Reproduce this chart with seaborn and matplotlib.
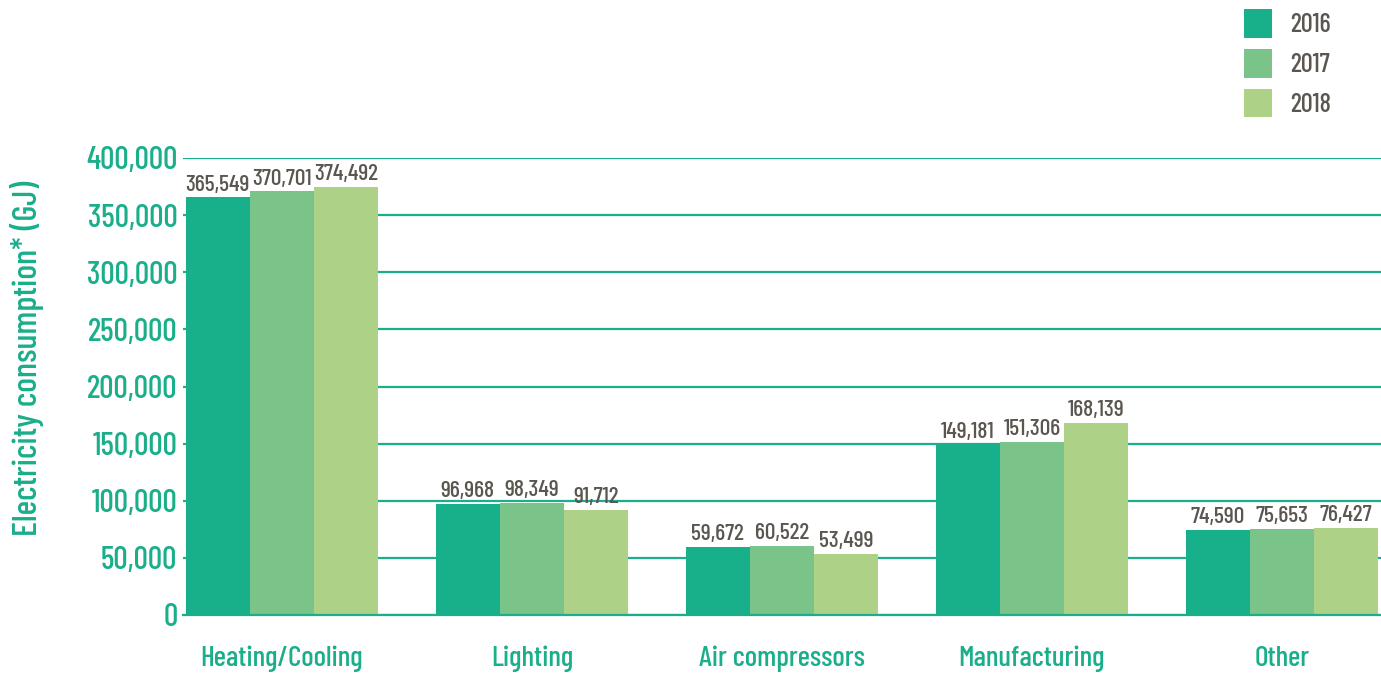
import matplotlib
matplotlib.use("Agg")
import matplotlib.pyplot as plt
import seaborn as sns
import pandas as pd

categories = ["Heating/Cooling", "Lighting", "Air compressors", "Manufacturing", "Other"]
years = ["2016", "2017", "2018"]
values_2016 = [365549, 96968, 59672, 149181, 74590]
values_2017 = [370701, 98349, 60522, 151306, 75653]
values_2018 = [374492, 91712, 53499, 168139, 76427]
y_ticks = [0, 50000, 100000, 150000, 200000, 250000, 300000, 350000, 400000]

colors = ["#17B08A", "#7BC489", "#ADD187"]
teal = "#1AAE8A"
grey = "#5B5750"

rows = []
for yr, vals in zip(years, [values_2016, values_2017, values_2018]):
    for c, v in zip(categories, vals):
        rows.append({"Category": c, "Year": yr, "Value": v})
df = pd.DataFrame(rows)

sns.set_theme(style="white")
plt.rcParams['font.family'] = ['Barlow Condensed', 'DejaVu Sans']
plt.rcParams['font.weight'] = 500

fig = plt.figure(figsize=(13.81, 6.76), dpi=100)
ax = fig.add_axes([183/1381, 1 - 615/676, (1381-183)/1381, (615-158)/676])

sns.barplot(data=df, x="Category", y="Value", hue="Year", order=categories,
            hue_order=years, palette=colors, width=0.77, saturation=1,
            linewidth=0, ax=ax, legend=True)

ax.set_ylim(0, 400000)
ax.set_xlim(-0.396, 4.396)
ax.set_yticks(y_ticks)
ax.set_yticklabels([f"{t:,}" for t in y_ticks], color=teal, fontsize=23, fontweight=500)
ax.tick_params(axis="y", length=0, pad=4)
ax.tick_params(axis="x", length=0, pad=22, labelsize=21, labelcolor=teal)
for lbl in ax.get_xticklabels():
    lbl.set_fontweight(500)
ax.grid(axis="y", color=teal, linewidth=1.6)
ax.set_axisbelow(True)
for s in ["top", "right", "left"]:
    ax.spines[s].set_visible(False)
ax.spines["bottom"].set_color(teal)
ax.spines["bottom"].set_linewidth(1.6)
ax.set_xlabel("")
ax.set_ylabel("Electricity consumption* (GJ)", color=teal, fontsize=25, fontweight=500)
ax.yaxis.set_label_coords((44 - 183) / 1198, (615 - 358) / 457)

for cont in ax.containers:
    ax.bar_label(cont, labels=[f"{v:,.0f}" for v in cont.datavalues],
                 color=grey, fontsize=17, fontweight=500, padding=2)

handles, labels = ax.get_legend_handles_labels()
leg = ax.legend(handles, labels, loc="upper left", bbox_to_anchor=(1244/1381, 1 - 9/676),
                bbox_transform=fig.transFigure, frameon=False, fontsize=19,
                borderpad=0, borderaxespad=0,
                handlelength=1.05, handleheight=1.3, labelspacing=0.42, handletextpad=0.7,
                labelcolor=grey)
for t in leg.get_texts():
    t.set_fontweight(500)

fig.savefig("out.png", dpi=100)
